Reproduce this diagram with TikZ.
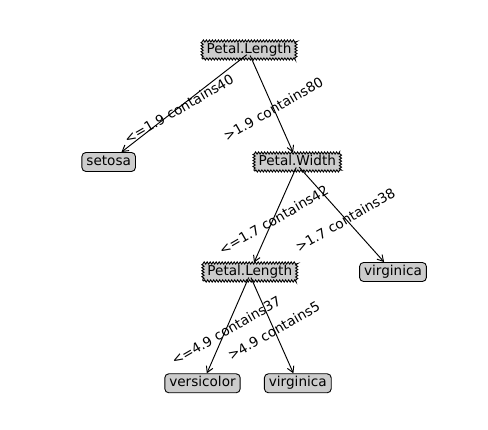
\documentclass[tikz,border=0pt]{standalone}
\usepackage{fontspec}
\setmainfont{DejaVu Sans}
\usetikzlibrary{arrows.meta,decorations.pathmorphing,calc}
\begin{document}
\begin{tikzpicture}[x=1pt,y=1pt,
  every node/.style={font=\fontsize{13.6}{16}\selectfont},
  decision/.style={draw, fill=black!20, line width=0.9pt, inner xsep=4.5pt, inner ysep=2.5pt,
    text height=10pt, text depth=3pt,
    decorate, decoration={zigzag, segment length=3pt, amplitude=1.1pt,
      pre=lineto, pre length=1pt, post=lineto, post length=1pt}},
  leaf/.style={draw, fill=black!20, line width=0.9pt, rounded corners=4pt, inner xsep=4.5pt,
    inner ysep=3pt, text height=10pt, text depth=3pt},
  edge/.style={line width=0.95pt, -{Straight Barb[length=6pt,width=7pt]}, shorten <=2.8pt},
  elabel/.style={rotate=30, inner sep=0pt}]
\useasboundingbox (0,0) rectangle (488,430);
\fill[white] (0,0) rectangle (488,430);
% nodes
\node[decision] (root) at (249,380) {Petal.Length};
\node[leaf] (setosa) at (108.7,268) {setosa};
\node[decision] (pw) at (297.3,268) {Petal.Width};
\node[decision] (pl) at (249.8,158) {Petal.Length};
\node[leaf] (virgR) at (393,158) {virginica};
\node[leaf] (versi) at (202.5,46.7) {versicolor};
\node[leaf] (virgB) at (297.8,46.7) {virginica};
% parent points
\coordinate (proot) at ([yshift=-3pt]root.center);
\coordinate (ppw) at ([yshift=-3pt]pw.center);
\coordinate (ppl) at ([yshift=-3pt]pl.center);
% edges
\draw[edge] (proot) -- (setosa);
\draw[edge] (proot) -- (pw);
\draw[edge] (ppw) -- (pl);
\draw[edge] (ppw) -- (virgR);
\draw[edge] (ppl) -- (versi);
\draw[edge] (ppl) -- (virgB);
% labels
\node[elabel] (l1) at ($(proot)!0.5!([yshift=-3pt]setosa.center)$) {<=1.9 contains40};
\node[elabel] (l2) at ($(proot)!0.5!(ppw)$) {>1.9 contains80};
\node[elabel] (l3) at ($(ppw)!0.5!(ppl)$) {<=1.7 contains42};
\node[elabel] (l4) at ($(ppw)!0.5!([yshift=-3pt]virgR.center)$) {>1.7 contains38};
\node[elabel] (l5) at ($(ppl)!0.5!([yshift=-3pt]versi.center)$) {<=4.9 contains37};
\node[elabel] (l6) at ($(ppl)!0.5!([yshift=-3pt]virgB.center)$) {>4.9 contains5};
\end{tikzpicture}
\end{document}
